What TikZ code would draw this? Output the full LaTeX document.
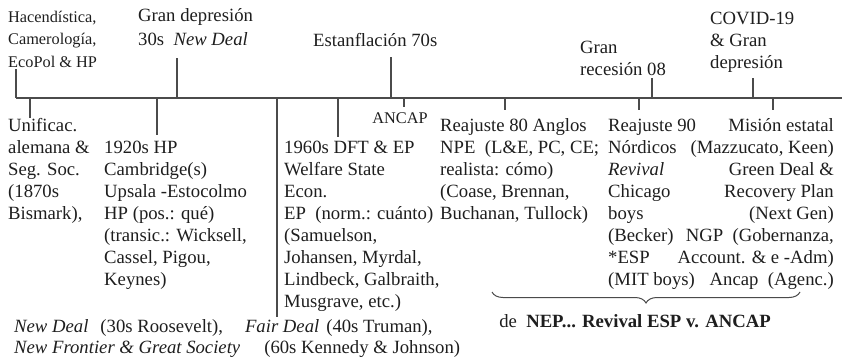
\documentclass[tikz,border=0pt]{standalone}
\usepackage{fontspec}
\setmainfont{Liberation Serif}
\usepackage{tikz}
\usetikzlibrary{positioning,decorations.pathreplacing}
\definecolor{tinta}{RGB}{30,30,30}
\definecolor{linea}{RGB}{75,75,75}

\begin{document}
\begin{tikzpicture}[x=1pt, y=-1pt,
  texto/.style={inner sep=0pt, anchor=base west, align=left, text=tinta,
    font=\fontsize{18.7}{22}\selectfont},
  chico/.style={texto, font=\fontsize{16.3}{22.5}\selectfont},
  marca/.style={draw=linea, line width=1.1pt},
]
  \useasboundingbox (0,0) rectangle (842,359);
  % Eje
  \coordinate (ejeA) at (16,98);
  \coordinate (ejeB) at (842,98);
  \draw[marca] (ejeA) -- (ejeB);
  % Hitos sobre el eje (la base es la de la última línea)
  \node[chico] (hacienda) at (8,67) {Hacendística,\\Camerología,\\EcoPol \& HP};
  \node[texto] (depresion) at (138,45)
    {Gran depresión\\[2pt]30s\enspace\textit{New Deal}};
  \node[texto] (estanflacion) at (313,46) {Estanflación 70s};
  \node[texto] (recesion) at (580,75) {Gran\\recesión 08};
  \node[texto] (covid) at (710,68) {COVID-19\\\& Gran\\depresión};
  \coordinate (mHacienda) at (16,69);
  \coordinate (mDepresion) at (177,58);
  \coordinate (mEstanflacion) at (391,57);
  \coordinate (mRecesion) at (652,78);
  \coordinate (mCovid) at (753,78);
  \foreach \m in {mHacienda,mDepresion,mEstanflacion,mRecesion,mCovid}
    \draw[marca] (\m) -- (\m |- ejeA);
  % Hitos bajo el eje
  \node[texto] (unificacion) at (8,219)
    {Unificac.\\alemana \&\\Seg. Soc.\\(1870s\\Bismark),};
  \node[texto] (cambridge) at (104,285)
    {1920s HP\\Cambridge(s)\\Upsala -Estocolmo\\HP (pos.: qué)\\(transic.: Wicksell,\\Cassel, Pigou,\\Keynes)};
  \node[texto] (welfare) at (284,307)
    {1960s DFT \& EP\\Welfare State\\Econ.\\EP\enspace(norm.: cuánto)\\(Samuelson,\\Johansen, Myrdal,\\Lindbeck, Galbraith,\\Musgrave, etc.)};
  \node[chico, anchor=base] (ancap) at (400,123) {ANCAP};
  \node[texto] (anglos) at (440,219)
    {Reajuste 80 Anglos\\NPE\enspace(L\&E, PC, CE;\\realista: cómo)\\(Coase, Brennan,\\Buchanan, Tullock)};
  \node[texto] (nordicos) at (608,285)
    {Reajuste 90\\Nórdicos\\\textit{Revival}\\Chicago\\boys\\(Becker)\\*ESP\\(MIT boys)};
  \node[texto, anchor=base east, align=right] (mision) at (834,285)
    {Misión estatal\\(Mazzucato, Keen)\\Green Deal \&\\Recovery Plan\\(Next Gen)\\NGP\enspace(Gobernanza,\\Account. \& e -Adm)\\Ancap\enspace(Agenc.)};
  \coordinate (mUnificacion) at (30,118);
  \coordinate (mCambridge) at (157,135);
  \coordinate (mDeals) at (277,317);
  \coordinate (mWelfare) at (338,137);
  \coordinate (mAncap) at (404,107);
  \coordinate (mAnglos) at (505,110);
  \coordinate (mNordicos) at (639,110);
  \coordinate (mMision) at (773,110);
  \foreach \m in {mUnificacion,mCambridge,mDeals,mWelfare,mAncap,mAnglos,mNordicos,mMision}
    \draw[marca] (\m |- ejeA) -- (\m);
  % Notas al pie
  \node[texto] (deals) at (14,332)
    {\textit{New Deal}\hspace{12pt}(30s Roosevelt),\hspace{22pt}\textit{Fair Deal}\hspace{7pt}(40s Truman),};
  \node[texto] (fronteras) at (14,353)
    {\textit{New Frontier \& Great Society}\hspace{24pt}(60s Kennedy \& Johnson)};
  % Llave
  \coordinate (llaveA) at (492,292);
  \coordinate (llaveB) at (800,292);
  \draw[draw=linea, line width=1pt, decorate,
    decoration={brace, mirror, amplitude=11pt}] (llaveA) -- (llaveB);
  \node[texto, anchor=base] (resumen) at (635,327)
    {de\enspace\textbf{NEP... Revival ESP v. ANCAP}};
\end{tikzpicture}
\end{document}
